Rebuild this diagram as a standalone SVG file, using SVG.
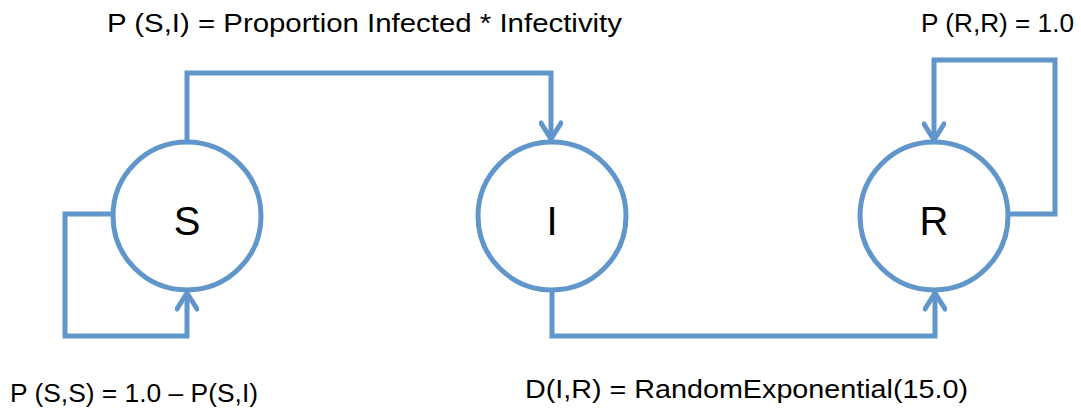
<svg xmlns="http://www.w3.org/2000/svg" width="1081" height="417" viewBox="0 0 1081 417">
<style>
.node{fill:#fff;stroke:#6096C9;stroke-width:5}
.edge{fill:none;stroke:#6096C9;stroke-width:5;stroke-linejoin:miter}
.lbl{font-family:"Liberation Sans",Arial,sans-serif;font-size:25px;fill:#000}
.nl{font-family:"Liberation Sans",Arial,sans-serif;font-size:40px;fill:#000;text-anchor:middle}
</style>
<defs>
<marker id="arr" viewBox="0 0 24 24" refX="20" refY="12" markerWidth="24" markerHeight="24" markerUnits="userSpaceOnUse" orient="auto">
<path d="M4,2 L20,12 L4,22" fill="none" stroke="#6096C9" stroke-width="5" stroke-linecap="round" stroke-linejoin="round"/>
</marker>
</defs>
<rect width="1081" height="417" fill="#fff"/>
<g id="connectors">
<path class="edge" d="M187,141 V73 H551 V139" marker-end="url(#arr)"/>
<path class="edge" d="M113,214 H65 V336 H187 V293" marker-end="url(#arr)"/>
<path class="edge" d="M552,291 V336 H935 V293" marker-end="url(#arr)"/>
<path class="edge" d="M1008,214 H1055 V60 H934 V140" marker-end="url(#arr)"/>
</g>
<g id="node-S"><circle class="node" cx="187" cy="216" r="74"/><text class="nl" x="187" y="235">S</text></g>
<g id="node-I"><circle class="node" cx="552" cy="216" r="74"/><text class="nl" x="552" y="235">I</text></g>
<g id="node-R"><circle class="node" cx="934" cy="216" r="74"/><text class="nl" x="934" y="235">R</text></g>
<g id="labels">
<text class="lbl" x="107" y="32" textLength="515" lengthAdjust="spacingAndGlyphs">P (S,I) = Proportion Infected * Infectivity</text>
<text class="lbl" x="921" y="32" textLength="153" lengthAdjust="spacingAndGlyphs">P (R,R) = 1.0</text>
<text class="lbl" x="10" y="402" textLength="248" lengthAdjust="spacingAndGlyphs">P (S,S) = 1.0 – P(S,I)</text>
<text class="lbl" x="525" y="398" textLength="443" lengthAdjust="spacingAndGlyphs">D(I,R) = RandomExponential(15.0)</text>
</g>
</svg>
